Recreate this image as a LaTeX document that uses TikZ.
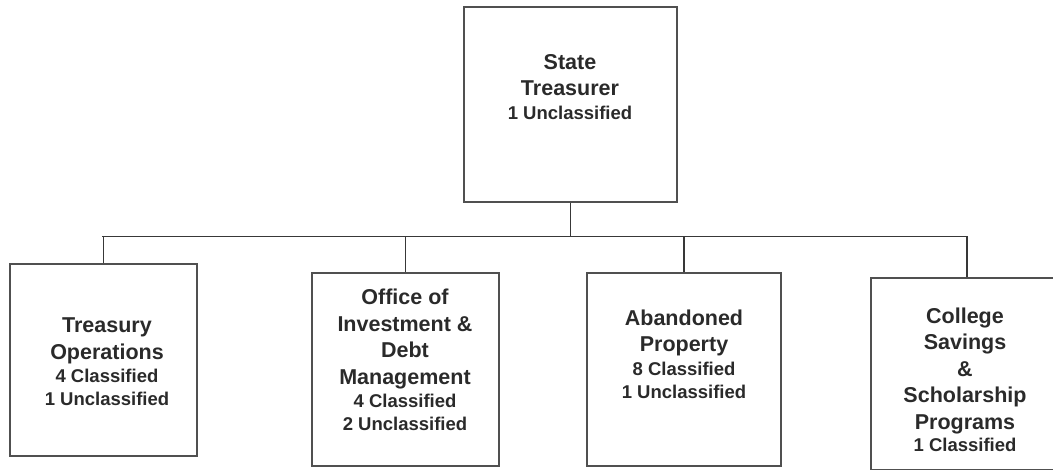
\documentclass[tikz,border=0pt]{standalone}
\usepackage{fontspec}
\setmainfont{Liberation Sans}
\newcommand\bigf{\fontsize{21.5}{26.5}\selectfont\bfseries}
\newcommand\smf{\fontsize{18.5}{23}\selectfont\bfseries}
\definecolor{boxline}{HTML}{505050}
\definecolor{conline}{HTML}{383838}
\definecolor{txtc}{HTML}{2A2A2A}
\tikzset{
  unitbox/.style={draw=boxline, line width=1.6pt, rectangle, inner sep=0pt},
  conn/.style={draw=conline, line width=1.4pt},
  lbl/.style={align=center, inner sep=0pt, text=txtc, font=\bigf}
}
\begin{document}
\begin{tikzpicture}[x=1pt,y=-1pt]
\useasboundingbox (0,0) rectangle (1053,470);
\clip (0,0) rectangle (1053,470);
% boxes
\node[unitbox, minimum width=213pt, minimum height=195pt] (top) at (570.5,104.5) {};
\node[unitbox, minimum width=187pt, minimum height=192pt] (b1) at (103.5,360) {};
\node[unitbox, minimum width=187pt, minimum height=193pt] (b2) at (405.5,369.5) {};
\node[unitbox, minimum width=194pt, minimum height=193pt] (b3) at (684,369.5) {};
\node[unitbox, minimum width=192pt, minimum height=192pt] (b4) at (967,374) {};
% labels
\node[lbl] (t0) at (570,87) {State\\Treasurer\\[-3pt]\smf 1 Unclassified};
\node[lbl] (t1) at (107,362) {Treasury\\Operations\\[-3pt]\smf 4 Classified\\[-3.5pt]\smf 1 Unclassified};
\node[lbl] (t2) at (405,360) {Office of\\Investment \&\\Debt\\Management\\[-3pt]\smf 4 Classified\\[-3.5pt]\smf 2 Unclassified};
\node[lbl] (t3) at (684,354) {Abandoned\\Property\\[-3pt]\smf 8 Classified\\[-3.5pt]\smf 1 Unclassified};
\node[lbl] (t4) at (965,380) {College\\Savings\\\&\\Scholarship\\Programs\\[-4pt]\smf 1 Classified};
% connectors
\coordinate (busL) at (102,236.5);
\coordinate (busR) at (967,236.5);
\draw[conn] (top.south) -- (top.south |- busL);
\draw[conn] (busL) -- (busR);
\draw[conn] (b1.north) -- (b1.north |- busL);
\draw[conn] (b2.north) -- (b2.north |- busL);
\draw[conn] (b3.north) -- (b3.north |- busL);
\draw[conn] (b4.north) -- (b4.north |- busR);
\end{tikzpicture}
\end{document}
